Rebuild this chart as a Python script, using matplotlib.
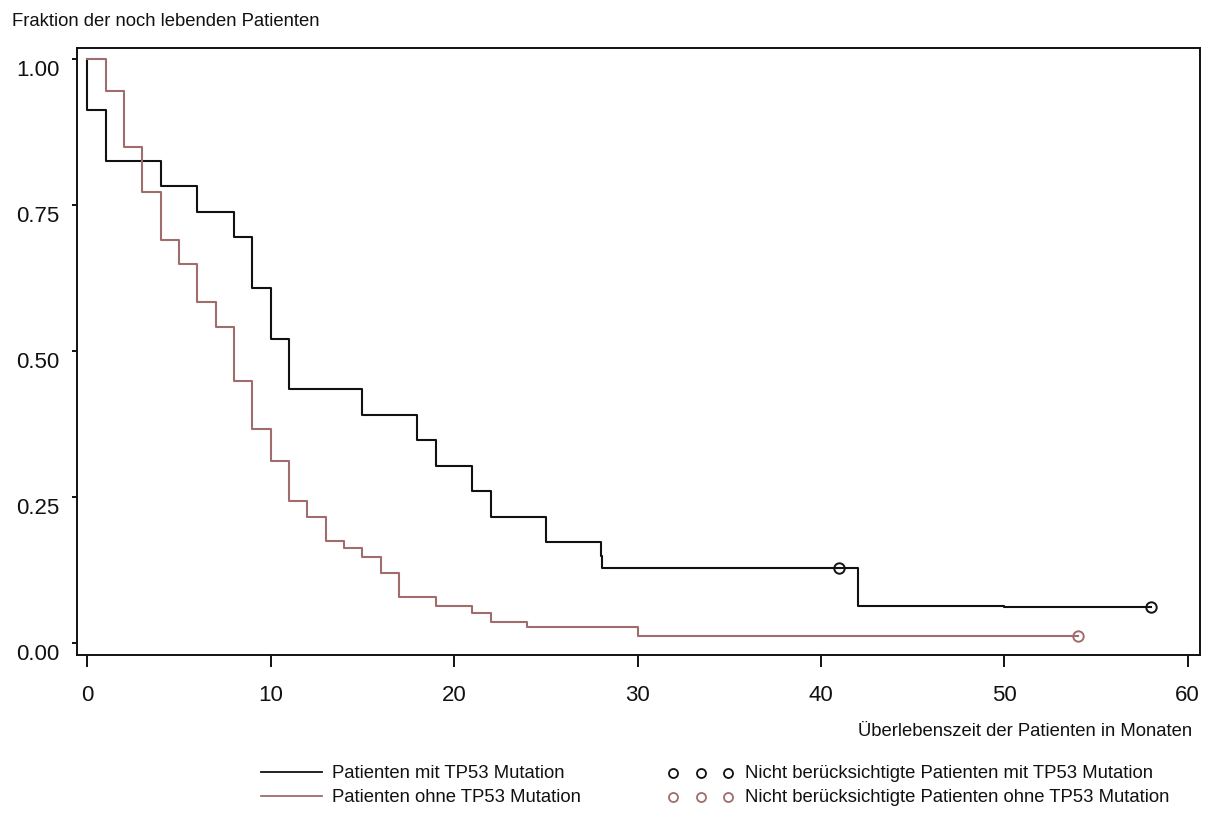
import matplotlib
matplotlib.use("Agg")
import matplotlib.pyplot as plt
from matplotlib.transforms import ScaledTranslation
from matplotlib.lines import Line2D

plt.rcParams['font.family'] = ['Liberation Sans', 'DejaVu Sans']

# Kaplan-Meier curves
time_mit = [0, 0, 1, 4, 6, 8, 9, 10, 11, 15, 18, 19, 21, 22, 25, 28, 28.08, 42, 50, 58]
surv_mit = [1.0, 0.913, 0.826, 0.783, 0.739, 0.696, 0.609, 0.522, 0.435, 0.391,
            0.348, 0.304, 0.261, 0.217, 0.174, 0.150, 0.130, 0.065, 0.063, 0.063]
time_ohne = [0, 1, 2, 3, 4, 5, 6, 7, 8, 9, 10, 11, 12, 13, 14, 15, 16, 17, 19, 21, 22, 24, 30, 54]
surv_ohne = [1.0, 0.946, 0.850, 0.772, 0.691, 0.649, 0.584, 0.542, 0.449, 0.368, 0.312, 0.244,
             0.216, 0.176, 0.164, 0.148, 0.121, 0.080, 0.064, 0.052, 0.036, 0.028, 0.013, 0.013]

# censored patients
cens_mit_t = [41, 58]
cens_mit_s = [0.130, 0.063]
cens_ohne_t = [54]
cens_ohne_s = [0.013]

xticks = [0, 10, 20, 30, 40, 50, 60]
yticks = [0.0, 0.25, 0.5, 0.75, 1.0]
ytick_labels = ["0.00", "0.25", "0.50", "0.75", "1.00"]

title = "Fraktion der noch lebenden Patienten"
xlabel = "Überlebenszeit der Patienten in Monaten"
leg_lines = ["Patienten mit TP53 Mutation", "Patienten ohne TP53 Mutation"]
leg_cens = ["Nicht berücksichtigte Patienten mit TP53 Mutation",
            "Nicht berücksichtigte Patienten ohne TP53 Mutation"]

BLACK = "#111111"
RED = "#a06c6c"
W, H = 1215, 826

fig = plt.figure(figsize=(W / 100, H / 100), dpi=100)
ax = fig.add_axes([76.7 / W, 1 - 655 / H, (1200 - 76.7) / W, (655 - 48.3) / H])

ax.step(time_mit, surv_mit, where='post', color=BLACK, lw=1.5)
ax.step(time_ohne, surv_ohne, where='post', color=RED, lw=1.5)
ax.plot(cens_mit_t, cens_mit_s, 'o', mfc='none', mec=BLACK, ms=7.5, mew=1.4)
ax.plot(cens_ohne_t, cens_ohne_s, 'o', mfc='none', mec=RED, ms=7.5, mew=1.4)

ax.set_xlim(-0.58, 60.67)
ax.set_ylim(-0.0197, 1.0188)
ax.set_xticks(xticks)
ax.set_yticks(yticks)
ax.set_yticklabels(ytick_labels)
for s in ax.spines.values():
    s.set_linewidth(1.4)
    s.set_color(BLACK)
ax.tick_params(axis='x', direction='out', length=8.3, width=1.4, pad=13.5, labelsize=16, colors=BLACK)
ax.tick_params(axis='y', direction='out', length=3.6, width=1.4, pad=8.6, labelsize=16, colors=BLACK)
for lab in ax.get_yticklabels():
    lab.set_transform(lab.get_transform() + ScaledTranslation(0, -0.09, fig.dpi_scale_trans))

fs = 13.3
fig.text(12 / W, 1 - 21 / H, title, fontsize=fs, va='center', ha='left', color=BLACK)
fig.text(1192 / W, 1 - 731 / H, xlabel, fontsize=fs, va='center', ha='right', color=BLACK)

# hand-made legend below the plot
rows = [773, 797]
colors = [BLACK, RED]
for y, c, t1, t2 in zip(rows, colors, leg_lines, leg_cens):
    fig.add_artist(Line2D([261 / W, 322 / W], [1 - (y - 1) / H] * 2, color=c, lw=1.3))
    fig.text(332 / W, 1 - y / H, t1, fontsize=fs, va='center', ha='left', color=BLACK)
    for cx in [673, 701, 728]:
        fig.add_artist(Line2D([cx / W], [1 - y / H], marker='o', mfc='none', mec=c, ms=6.5, mew=1.3))
    fig.text(745 / W, 1 - y / H, t2, fontsize=fs, va='center', ha='left', color=BLACK)

fig.savefig("out.png", dpi=100)
